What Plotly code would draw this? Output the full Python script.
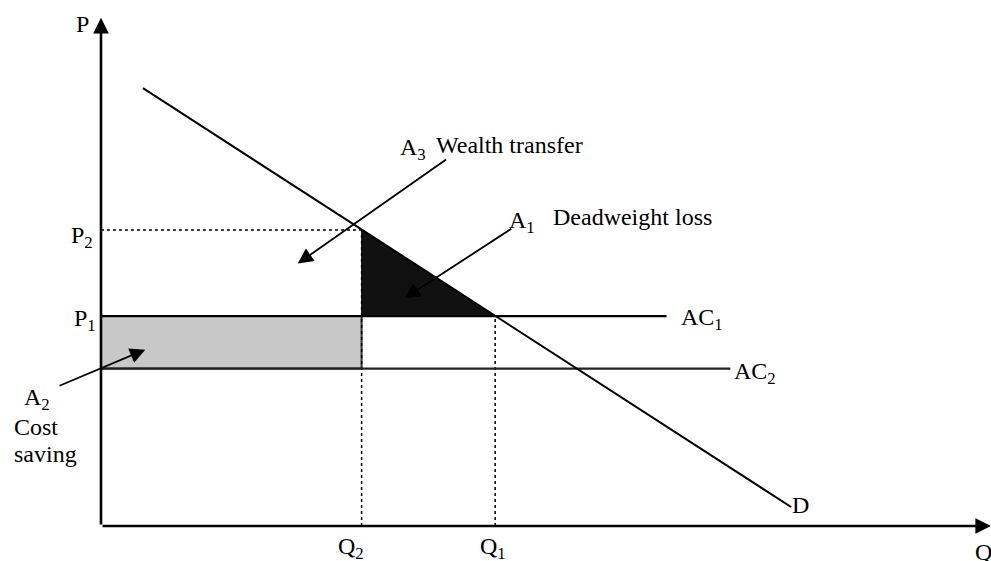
import plotly.graph_objects as go

# model values (Q on x, P on y)
Q2, Q1 = 20.0, 30.25
P1, AC2 = 20.0, 15.0
P2 = 28.2

demand_q = [3.22, 52.96]
demand_p = [41.7, 1.81]

ac1_q = [0, 43.4]
ac1_p = [P1, P1]
ac2_q = [0, 48.3]
ac2_p = [AC2, AC2]

saving_q = [0, Q2, Q2, 0, 0]
saving_p = [AC2, AC2, P1, P1, AC2]

dwl_q = [Q2, Q2, Q1, Q2]
dwl_p = [P2, P1, P1, P2]

x_range = [-7.75, 68.3]
y_range = [-3.33, 50.1]

FONT = "Liberation Serif, Times New Roman, serif"
FS = 24
BLACK = "#000000"

fig = go.Figure()

# shaded areas
fig.add_trace(go.Scatter(x=saving_q, y=saving_p, mode="lines", fill="toself",
                         fillcolor="#c8c8c8", line=dict(color="#333333", width=2),
                         hoverinfo="skip"))
fig.add_trace(go.Scatter(x=dwl_q, y=dwl_p, mode="lines", fill="toself",
                         fillcolor="#111111", line=dict(color="#111111", width=1),
                         hoverinfo="skip"))

# dotted guides
fig.add_trace(go.Scatter(x=[0, Q2], y=[P2, P2], mode="lines",
                         line=dict(color=BLACK, width=1.5, dash="dot"), hoverinfo="skip"))
fig.add_trace(go.Scatter(x=[Q2, Q2], y=[0, P2], mode="lines",
                         line=dict(color=BLACK, width=1.5, dash="dot"), hoverinfo="skip"))
fig.add_trace(go.Scatter(x=[Q1, Q1], y=[0, P1], mode="lines",
                         line=dict(color=BLACK, width=1.5, dash="dot"), hoverinfo="skip"))

# cost curves and demand
fig.add_trace(go.Scatter(x=ac1_q, y=ac1_p, mode="lines",
                         line=dict(color=BLACK, width=2.2), hoverinfo="skip"))
fig.add_trace(go.Scatter(x=ac2_q, y=ac2_p, mode="lines",
                         line=dict(color="#222222", width=2.2), hoverinfo="skip"))
fig.add_trace(go.Scatter(x=demand_q, y=demand_p, mode="lines",
                         line=dict(color=BLACK, width=2), hoverinfo="skip"))

# axes with arrowheads
def arrow(x0, y0, x1, y1, width, size):
    fig.add_annotation(x=x1, y=y1, ax=x0, ay=y0, xref="x", yref="y",
                       axref="x", ayref="y", text="", showarrow=True,
                       arrowhead=2, arrowsize=size, arrowwidth=width,
                       arrowcolor=BLACK)

arrow(0, 0, 0, 48.4, 2.6, 1.2)
arrow(0, 0, 68.3, 0, 2.6, 1.2)

# pointer arrows
arrow(26.6, 35.0, 15.1, 25.0, 1.8, 1.7)
arrow(31.6, 28.4, 23.3, 21.7, 1.8, 1.7)
arrow(-3.3, 13.3, 3.4, 16.8, 1.8, 1.7)

def label(text, x, y, xa="left", ya="middle"):
    fig.add_annotation(x=x, y=y, xref="x", yref="y", text=text, showarrow=False,
                       xanchor=xa, yanchor=ya,
                       font=dict(family=FONT, size=FS, color=BLACK))

label("P", -0.8, 47.8, xa="right")
label("P<sub>2</sub>", -0.45, 27.5, xa="right")
label("P<sub>1</sub>", -0.25, 19.6, xa="right")
label("Q<sub>2</sub>", Q2 - 0.8, -0.5, xa="center", ya="top")
label("Q<sub>1</sub>", Q1 - 0.2, -0.5, xa="center", ya="top")
label("Q", 66.9, -1.0, xa="left", ya="top")
label("D", 52.9, 2.0)
label("AC<sub>1</sub>", 44.35, 19.7)
label("AC<sub>2</sub>", 48.45, 14.6)
label("A<sub>3</sub>", 22.8, 35.9)
label("Wealth transfer", 25.55, 36.3)
label("A<sub>1</sub>", 31.15, 29.0)
label("Deadweight loss", 34.5, 29.4)
label("A<sub>2</sub>", -6.1, 12.1)
label("Cost", -6.85, 9.4)
label("saving", -6.85, 6.9)

# the source text box cuts off the bottom of "saving"
fig.add_shape(type="rect", xref="paper", yref="paper",
              x0=0.0, x1=0.09, y0=0.15, y1=0.18,
              fillcolor="white", line=dict(width=0), layer="above")

fig.update_xaxes(range=x_range, visible=False, showgrid=False, zeroline=False)
fig.update_yaxes(range=y_range, visible=False, showgrid=False, zeroline=False)
fig.update_layout(width=991, height=561, showlegend=False,
                  margin=dict(l=0, r=0, t=0, b=0),
                  paper_bgcolor="white", plot_bgcolor="white")

fig.write_html("out.html", config={"displayModeBar": False},
               post_script="document.body.style.margin='0';")
